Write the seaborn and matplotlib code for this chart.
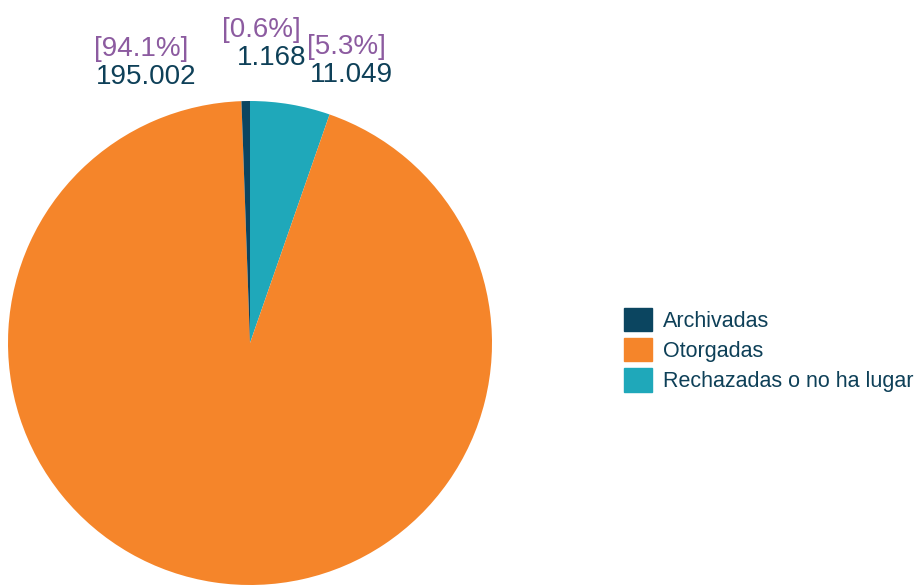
import matplotlib; matplotlib.use('Agg')
import matplotlib.pyplot as plt
import matplotlib.patches as mpatches
import seaborn as sns

# ── Data ──────────────────────────────────────────────────────────
categories = ['Archivadas', 'Otorgadas', 'Rechazadas o no ha lugar']
values     = [1168, 195002, 11049]
colors     = ['#0B4560', '#F5852A', '#1FA8BA']

# label anchor spots (data coords of the pie axes, radius = 1)
label_pos  = {'Archivadas': (0.088, 1.178),
              'Otorgadas': (-0.43, 1.098),
              'Rechazadas o no ha lugar': (0.418, 1.108)}

sns.set_theme(style='white')
plt.rcParams['font.family'] = ['Liberation Sans', 'DejaVu Sans']

fig = plt.figure(figsize=(9.15, 5.85), dpi=100)
ax = fig.add_axes([8/915, 0, 484/915, 484/585])

# clockwise from 12 o'clock: Rechazadas, Otorgadas, Archivadas
order = [2, 1, 0]
ax.pie([values[i] for i in order], colors=[colors[i] for i in order],
       startangle=90, counterclock=False, radius=1,
       wedgeprops=dict(linewidth=0))
ax.set_xlim(-1, 1); ax.set_ylim(-1, 1)
ax.set_aspect('equal')
ax.axis('off')

total = sum(values)
for cat, v in zip(categories, values):
    x, y = label_pos[cat]
    ax.text(x, y, f'{v:,}'.replace(',', '.'), ha='center', va='center',
            fontsize=20, color='#0E4058', clip_on=False)
    ax.text(x - 0.02 if cat != 'Archivadas' else x - 0.04, y + 0.115,
            f'[{v / total * 100:.1f}%]', ha='center', va='center',
            fontsize=20, color='#8C5BA0', clip_on=False)

handles = [mpatches.Patch(color=c, label=l) for c, l in zip(colors, categories)]
fig.legend(handles=handles, loc='center left', bbox_to_anchor=(624/915, 1 - 350/585),
           frameon=False, fontsize=15.5, handlelength=1.3, handleheight=1.3,
           labelspacing=0.3, handletextpad=0.5, borderpad=0, borderaxespad=0,
           labelcolor='#0E4058')

plt.savefig('out.png', dpi=100)
